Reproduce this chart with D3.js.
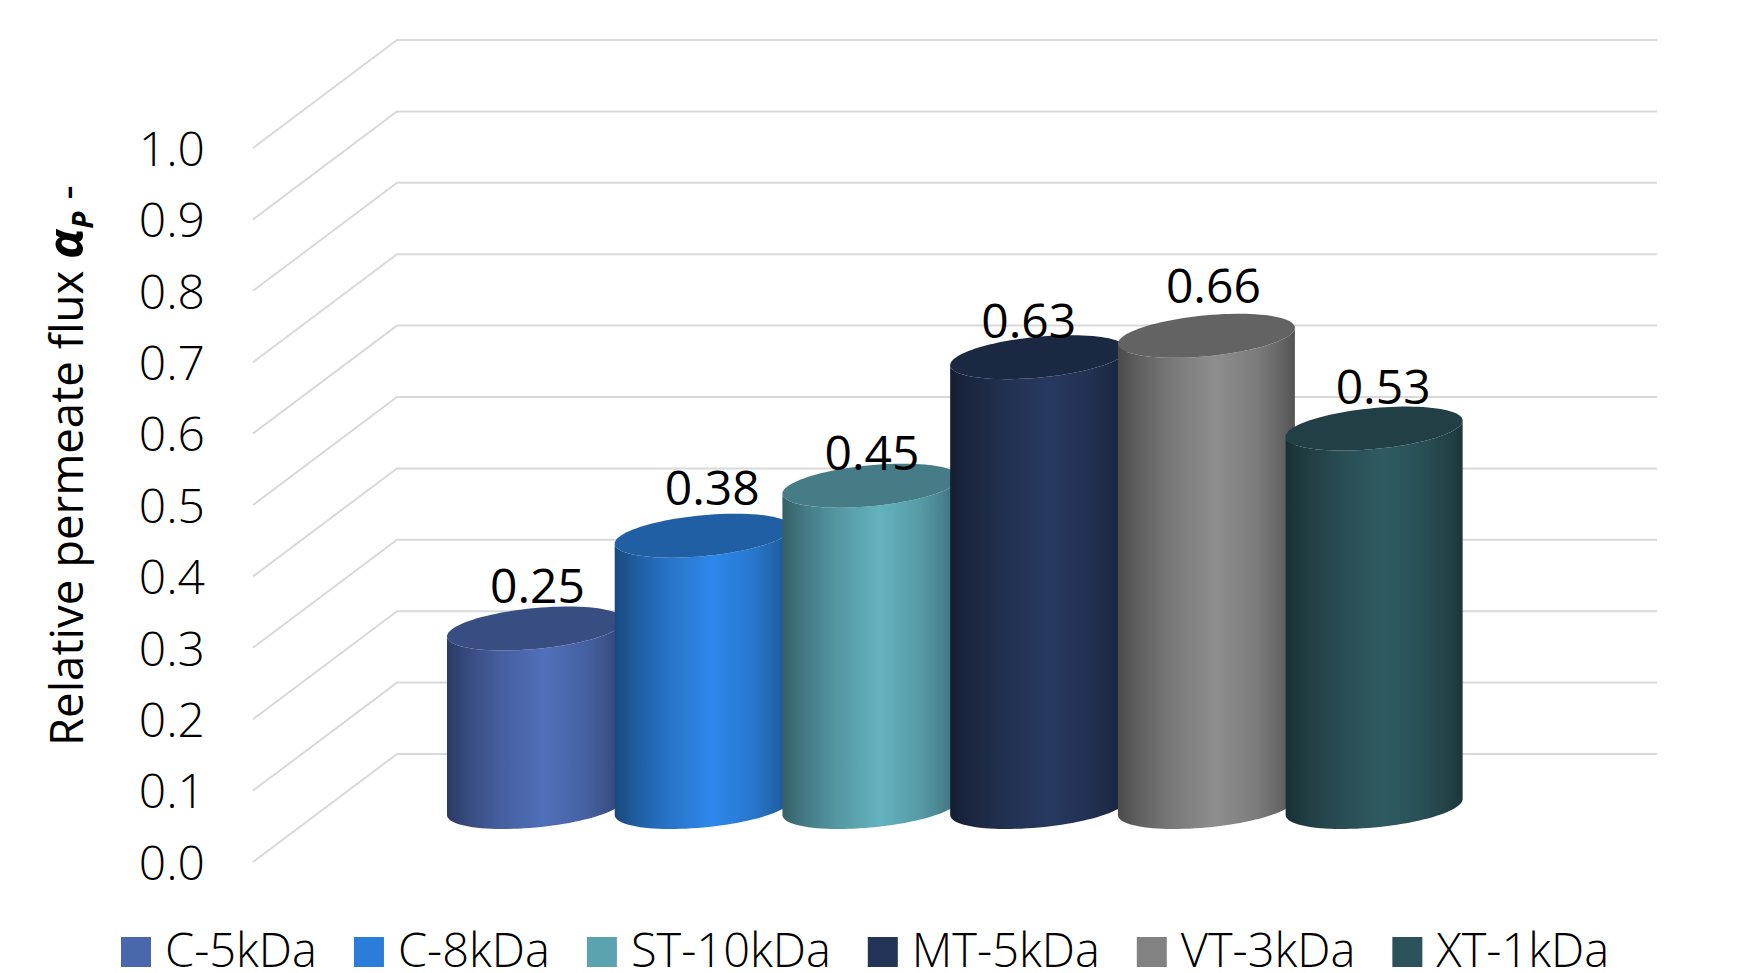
<!DOCTYPE html>
<html>
<head>
<meta charset="utf-8">
<script src="https://cdn.jsdelivr.net/npm/d3@7/dist/d3.min.js"></script>
<style>
  html, body { margin: 0; background: #fff; }
  text { font-family: "Open Sans", sans-serif; fill: #000; }
</style>
</head>
<body>
<svg id="chart" width="1756" height="973"></svg>
<script>
// Relative permeate flux per membrane
const membranes = ["C-5kDa", "C-8kDa", "ST-10kDa", "MT-5kDa", "VT-3kDa", "XT-1kDa"];
const flux = [0.25, 0.38, 0.45, 0.63, 0.66, 0.53];
const swatches = ["#4a66ac", "#2a7dd8", "#5ba3af", "#243457", "#828282", "#2b5359"];
const yTicks = [0, 0.1, 0.2, 0.3, 0.4, 0.5, 0.6, 0.7, 0.8, 0.9, 1.0];

const svg = d3.select("#chart");
const defs = svg.append("defs");

// Three depth planes of the pseudo-3D box share one unit length
const unit = 714;
const yBack = d3.scaleLinear().domain([0, 1]).range([754, 40]);
const yFront = d3.scaleLinear().domain([0, 1]).range([862, 148]);
const yMid = d3.scaleLinear().domain([0, 1]).range([807, 807 - unit]);
const x = d3.scaleBand().domain(membranes).range([451.6, 1458]).padding(0);

const wallLeft = 397, wallRight = 1657, floorLeft = 253;

// Gridlines: floor-side diagonal, then along the back wall
svg.append("g").selectAll("path").data(yTicks).join("path")
  .attr("d", d => {
    const p = d3.path();
    p.moveTo(floorLeft, yFront(d));
    p.lineTo(wallLeft, yBack(d));
    p.lineTo(wallRight, yBack(d));
    return p.toString();
  })
  .attr("fill", "none")
  .attr("stroke", "#d9d9d9")
  .attr("stroke-width", 2);

// Value axis
const axis = svg.append("g")
  .attr("transform", "translate(205,2)")
  .call(d3.axisLeft(yFront).tickValues(yTicks).tickFormat(d3.format(".1f")).tickSize(0).tickPadding(0));
axis.select(".domain").remove();
axis.selectAll("text")
  .style("font-family", '"Open Sans", sans-serif')
  .style("font-size", "48px")
  .style("font-weight", 300)
  .attr("fill", "#000");

// Axis title with the bold italic symbol and subscript
const title = svg.append("text")
  .attr("transform", "translate(83,746) rotate(-90)")
  .style("font-size", "45.5px");
title.append("tspan").text("Relative permeate flux ");
title.append("tspan").text("α").style("font-size", "50px").style("font-weight", 700).style("font-style", "italic");
title.append("tspan").text("P").attr("dy", 10).style("font-size", "28px")
  .style("font-weight", 700).style("font-style", "italic");
title.append("tspan").text(" -").attr("dy", -10);

// Cylinders: a sheared ellipse is the projected circular end of each one
const rx = 88.5, rDepth = 20.5, tilt = 8;
const endPoint = (cx, cy, t) => [cx + rx * Math.cos(t), cy - tilt * Math.cos(t) + rDepth * Math.sin(t)];
const outline = d3.line();
const shade = (c, k) => {
  const o = d3.rgb(c);
  return d3.rgb(Math.min(255, o.r * k), Math.min(255, o.g * k), Math.min(255, o.b * k)).formatHex();
};
const arcSteps = d3.range(0, 49).map(i => i / 48);
const sideStops = [[0, 0.58], [0.12, 0.74], [0.3, 0.92], [0.55, 1.09], [0.78, 0.95], [0.92, 0.78], [1, 0.64]];

membranes.forEach((name, i) => {
  const grad = defs.append("linearGradient").attr("id", "side" + i);
  grad.selectAll("stop").data(sideStops).join("stop")
    .attr("offset", d => d[0])
    .attr("stop-color", d => shade(swatches[i], d[1]));
});

const bars = svg.append("g").selectAll("g").data(membranes).join("g");

bars.append("path")
  .attr("fill", (d, i) => `url(#side${i})`)
  .attr("d", (d, i) => {
    const cx = x(d) + x.bandwidth() / 2;
    const top = yMid(flux[i]), base = yMid(0);
    const lowerBase = arcSteps.map(s => endPoint(cx, base, Math.PI * (1 - s)));
    const lowerTop = arcSteps.map(s => endPoint(cx, top, Math.PI * s));
    return outline(lowerBase.concat(lowerTop)) + "Z";
  });

bars.append("path")
  .attr("fill", (d, i) => shade(swatches[i], 0.76))
  .attr("d", (d, i) => {
    const cx = x(d) + x.bandwidth() / 2;
    const top = yMid(flux[i]);
    return outline(d3.range(0, 97).map(k => endPoint(cx, top, k / 96 * 2 * Math.PI))) + "Z";
  });

// Value labels, nudged so they sit clear of the cylinder caps
const labelNudge = [[2, -26], [9, -31], [1, -16], [-10, -19], [7, -33], [9, -25]];
svg.append("g").selectAll("text").data(membranes).join("text")
  .attr("x", (d, i) => x(d) + x.bandwidth() / 2 + labelNudge[i][0])
  .attr("y", (d, i) => yMid(flux[i]) + labelNudge[i][1])
  .attr("text-anchor", "middle")
  .style("font-size", "48px")
  .text((d, i) => flux[i].toFixed(2));

// Legend laid out from the measured width of each entry
const legend = svg.append("g");
let cursor = 121;
membranes.forEach((name, i) => {
  legend.append("rect")
    .attr("x", cursor).attr("y", 937).attr("width", 30).attr("height", 30)
    .attr("fill", swatches[i]);
  const label = legend.append("text")
    .attr("x", cursor + 44).attr("y", 967)
    .style("font-size", "47px").style("font-weight", 300)
    .text(name);
  cursor += 44 + label.node().getComputedTextLength() + 37;
});
</script>
</body>
</html>
